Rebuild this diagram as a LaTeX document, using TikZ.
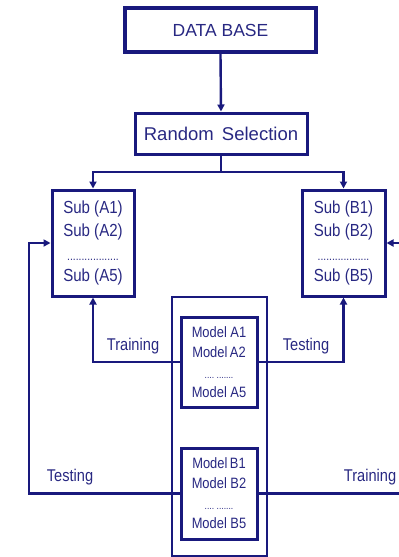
\documentclass[tikz,border=0pt]{standalone}
\usepackage{fontspec}
\setmainfont{Liberation Sans}
\newfontfamily\narrowf[FakeStretch=0.86]{Liberation Sans}
\usetikzlibrary{arrows.meta}
\definecolor{navy}{RGB}{25,25,125}
\definecolor{txt}{RGB}{40,40,130}
\tikzset{
  box/.style={draw=navy, line width=3pt, rectangle, inner sep=0pt, text=txt, align=center},
  conn/.style={draw=navy, line width=2.4pt},
  arr/.style={conn, -{Triangle[length=7pt,width=7pt]}},
  lbl/.style={text=txt, font=\narrowf\fontsize{17}{17}\selectfont, inner sep=0pt},
}
\begin{document}
\begin{tikzpicture}[x=1pt,y=-1pt]
\useasboundingbox (0,0) rectangle (399,557);
\node[box, line width=4pt, minimum width=191pt, minimum height=44pt, font=\fontsize{17.5}{17.5}\selectfont] (db) at (220.5,30) {DATA BASE};
\node[box, minimum width=172pt, minimum height=41pt, font=\fontsize{18.5}{18.5}\selectfont] (rs) at (221,133.5) {Random\ \,Selection};
\node[box, minimum width=82pt, minimum height=106pt, font=\narrowf\fontsize{17.5}{23}\selectfont] (subA) at (93,243) {Sub (A1)\\ Sub (A2)\\[1pt] {\fontsize{12}{12}\selectfont ..................}\\[-2pt] Sub (A5)};
\node[box, minimum width=83pt, minimum height=106pt, font=\narrowf\fontsize{17.5}{23}\selectfont] (subB) at (343.5,243) {Sub (B1)\\ Sub (B2)\\[1pt] {\fontsize{12}{12}\selectfont ..................}\\[-2pt] Sub (B5)};
\node[draw=navy, line width=1.8pt, rectangle, minimum width=95pt, minimum height=259pt] (outer) at (219.5,426.5) {};
\node[box, minimum width=76pt, minimum height=90pt, font=\narrowf\fontsize{15}{20}\selectfont] (ma) at (219,362) {Model A1\\ Model\,A2\\[1pt] {\fontsize{10}{10}\selectfont ....\ .......}\\[-1pt] Model A5};
\node[box, minimum width=76pt, minimum height=91pt, font=\narrowf\fontsize{15}{20}\selectfont] (mb) at (219,493.5) {Model\,B1\\ Model B2\\[1pt] {\fontsize{10}{10}\selectfont ....\ .......}\\[-1pt] Model B5};
\coordinate (split) at (221,172);
\coordinate (lcorner) at (29,493.5);
\coordinate (lup) at (29,243);
\coordinate (rend) at (399,493.5);
\coordinate (rin) at (399,243);
\draw[arr] (db.south) -- (rs.north);
\draw[conn] (rs.south) -- (split);
\draw[arr] (split) -| (subA.north);
\draw[arr] (split) -| (subB.north);
\draw[arr] (ma.west) -| (subA.south);
\draw[arr] (ma.east) -| (subB.south);
\draw[arr] (mb.west) -- (lcorner) -- (lup) -- (subA.west);
\draw[conn] (mb.east) -- (rend);
\draw[arr] (rin) -- (subB.east);
\node[lbl] (l1) at (133,346) {Training};
\node[lbl] (l2) at (306,346) {Testing};
\node[lbl] (l3) at (70,477) {Testing};
\node[lbl] (l4) at (370,477) {Training};
\end{tikzpicture}
\end{document}
